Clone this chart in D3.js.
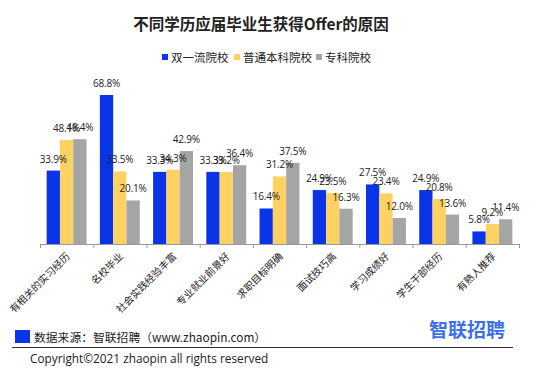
<!DOCTYPE html>
<html lang="zh">
<head>
<meta charset="UTF-8">
<title>不同学历应届毕业生获得Offer的原因</title>
<script src="https://d3js.org/d3.v7.min.js"></script>
<style>
  body { margin: 0; background: #fff; font-family: "Noto Sans CJK SC", "Noto Sans", sans-serif; }
  svg text { fill: #222; }
</style>
</head>
<body>
<svg id="chart" width="550" height="374"></svg>
<script>
const categories = ['有相关的实习经历', '名校毕业', '社会实践经验丰富', '专业就业前景好', '求职目标明确', '面试技巧高', '学习成绩好', '学生干部经历', '有熟人推荐'];
const seriesNames = ['双一流院校', '普通本科院校', '专科院校'];
const colors = ['#0a34e8', '#fdd262', '#a5a5a5'];
const shuangyiliu = [33.9, 68.8, 33.3, 33.3, 16.4, 24.9, 27.5, 24.9, 5.8];
const benke = [48.1, 33.5, 34.3, 33.2, 31.2, 23.5, 23.4, 20.8, 9.2];
const zhuanke = [48.4, 20.1, 42.9, 36.4, 37.5, 16.3, 12.0, 13.6, 11.4];
const values = [shuangyiliu, benke, zhuanke];

const svg = d3.select('#chart');
const left = 40, right = 519, base = 244;

// 标题
svg.append('text')
    .attr('x', 261).attr('y', 30)
    .attr('text-anchor', 'middle')
    .style('font-size', '15.5px').style('font-weight', 'bold')
    .text('不同学历应届毕业生获得Offer的原因');

// 图例
const legendX = [162, 234, 316];
seriesNames.forEach((name, i) => {
    svg.append('rect')
        .attr('x', legendX[i]).attr('y', 54).attr('width', 6).attr('height', 6)
        .attr('fill', colors[i]);
    svg.append('text')
        .attr('x', legendX[i] + 9).attr('y', 61.5)
        .style('font-size', '11.5px')
        .text(name);
});

const x = d3.scaleBand().domain(categories).range([left, right]).paddingInner(0.25).paddingOuter(0.125);
const xs = d3.scaleBand().domain(d3.range(3)).range([0, x.bandwidth()]);
const y = d3.scaleLinear().domain([0, 68.8]).range([base, 95]);

const groups = svg.append('g').selectAll('g')
    .data(categories)
    .join('g')
    .attr('transform', d => `translate(${x(d)},0)`);

groups.selectAll('rect')
    .data((d, ci) => values.map((s, si) => ({ si, v: s[ci] })))
    .join('rect')
    .attr('x', d => xs(d.si))
    .attr('y', d => y(d.v))
    .attr('width', xs.bandwidth())
    .attr('height', d => base - y(d.v))
    .attr('fill', d => colors[d.si]);

// 数据标签（与原图一样允许相邻标签略有重叠）
groups.selectAll('text.val')
    .data((d, ci) => values.map((s, si) => ({ si, v: s[ci] })))
    .join('text')
    .attr('class', 'val')
    .attr('x', d => xs(d.si) + xs.bandwidth() / 2)
    .attr('y', d => y(d.v) - 8)
    .attr('text-anchor', 'middle')
    .style('font-size', '10px')
    .style('letter-spacing', '-0.2px')
    .style('font-family', '"Open Sans", "DejaVu Sans", sans-serif')
    .text(d => d.v.toFixed(1) + '%');

// x 轴
const xAxisScale = d3.scaleLinear().domain([0, categories.length]).range([left, right]);
const axis = svg.append('g');
axis.append('line')
    .attr('x1', left).attr('x2', right).attr('y1', base + 0.5).attr('y2', base + 0.5)
    .attr('stroke', '#999');
axis.selectAll('line.tick')
    .data(d3.range(categories.length + 1))
    .join('line')
    .attr('class', 'tick')
    .attr('x1', d => xAxisScale(d) + 0.5).attr('x2', d => xAxisScale(d) + 0.5)
    .attr('y1', base).attr('y2', base + 4)
    .attr('stroke', '#999');

axis.selectAll('text.cat')
    .data(categories)
    .join('text')
    .attr('class', 'cat')
    .attr('text-anchor', 'end')
    .attr('transform', d => `translate(${x(d) + x.bandwidth() / 2 + 4},${base + 13}) rotate(-45)`)
    .style('font-size', '10px')
    .text(d => d);

// 页脚
svg.append('rect').attr('x', 15).attr('y', 330).attr('width', 15).attr('height', 13).attr('fill', '#0a34e8');
svg.append('text')
    .attr('x', 34).attr('y', 342)
    .style('font-size', '11.8px')
    .text('数据来源：智联招聘（www.zhaopin.com）');
svg.append('text')
    .attr('x', 505).attr('y', 337)
    .attr('text-anchor', 'end')
    .style('font-size', '19px').style('font-weight', 'bold')
    .style('fill', '#3a6fe8')
    .text('智联招聘');
svg.append('line')
    .attr('x1', 12).attr('x2', 513).attr('y1', 347.5).attr('y2', 347.5)
    .attr('stroke', '#333').attr('stroke-width', 1.2);
svg.append('text')
    .attr('x', 30).attr('y', 363)
    .style('font-size', '11.8px')
    .style('font-family', '"Open Sans", "Noto Sans", sans-serif')
    .text('Copyright©2021 zhaopin all rights reserved');
</script>
</body>
</html>
